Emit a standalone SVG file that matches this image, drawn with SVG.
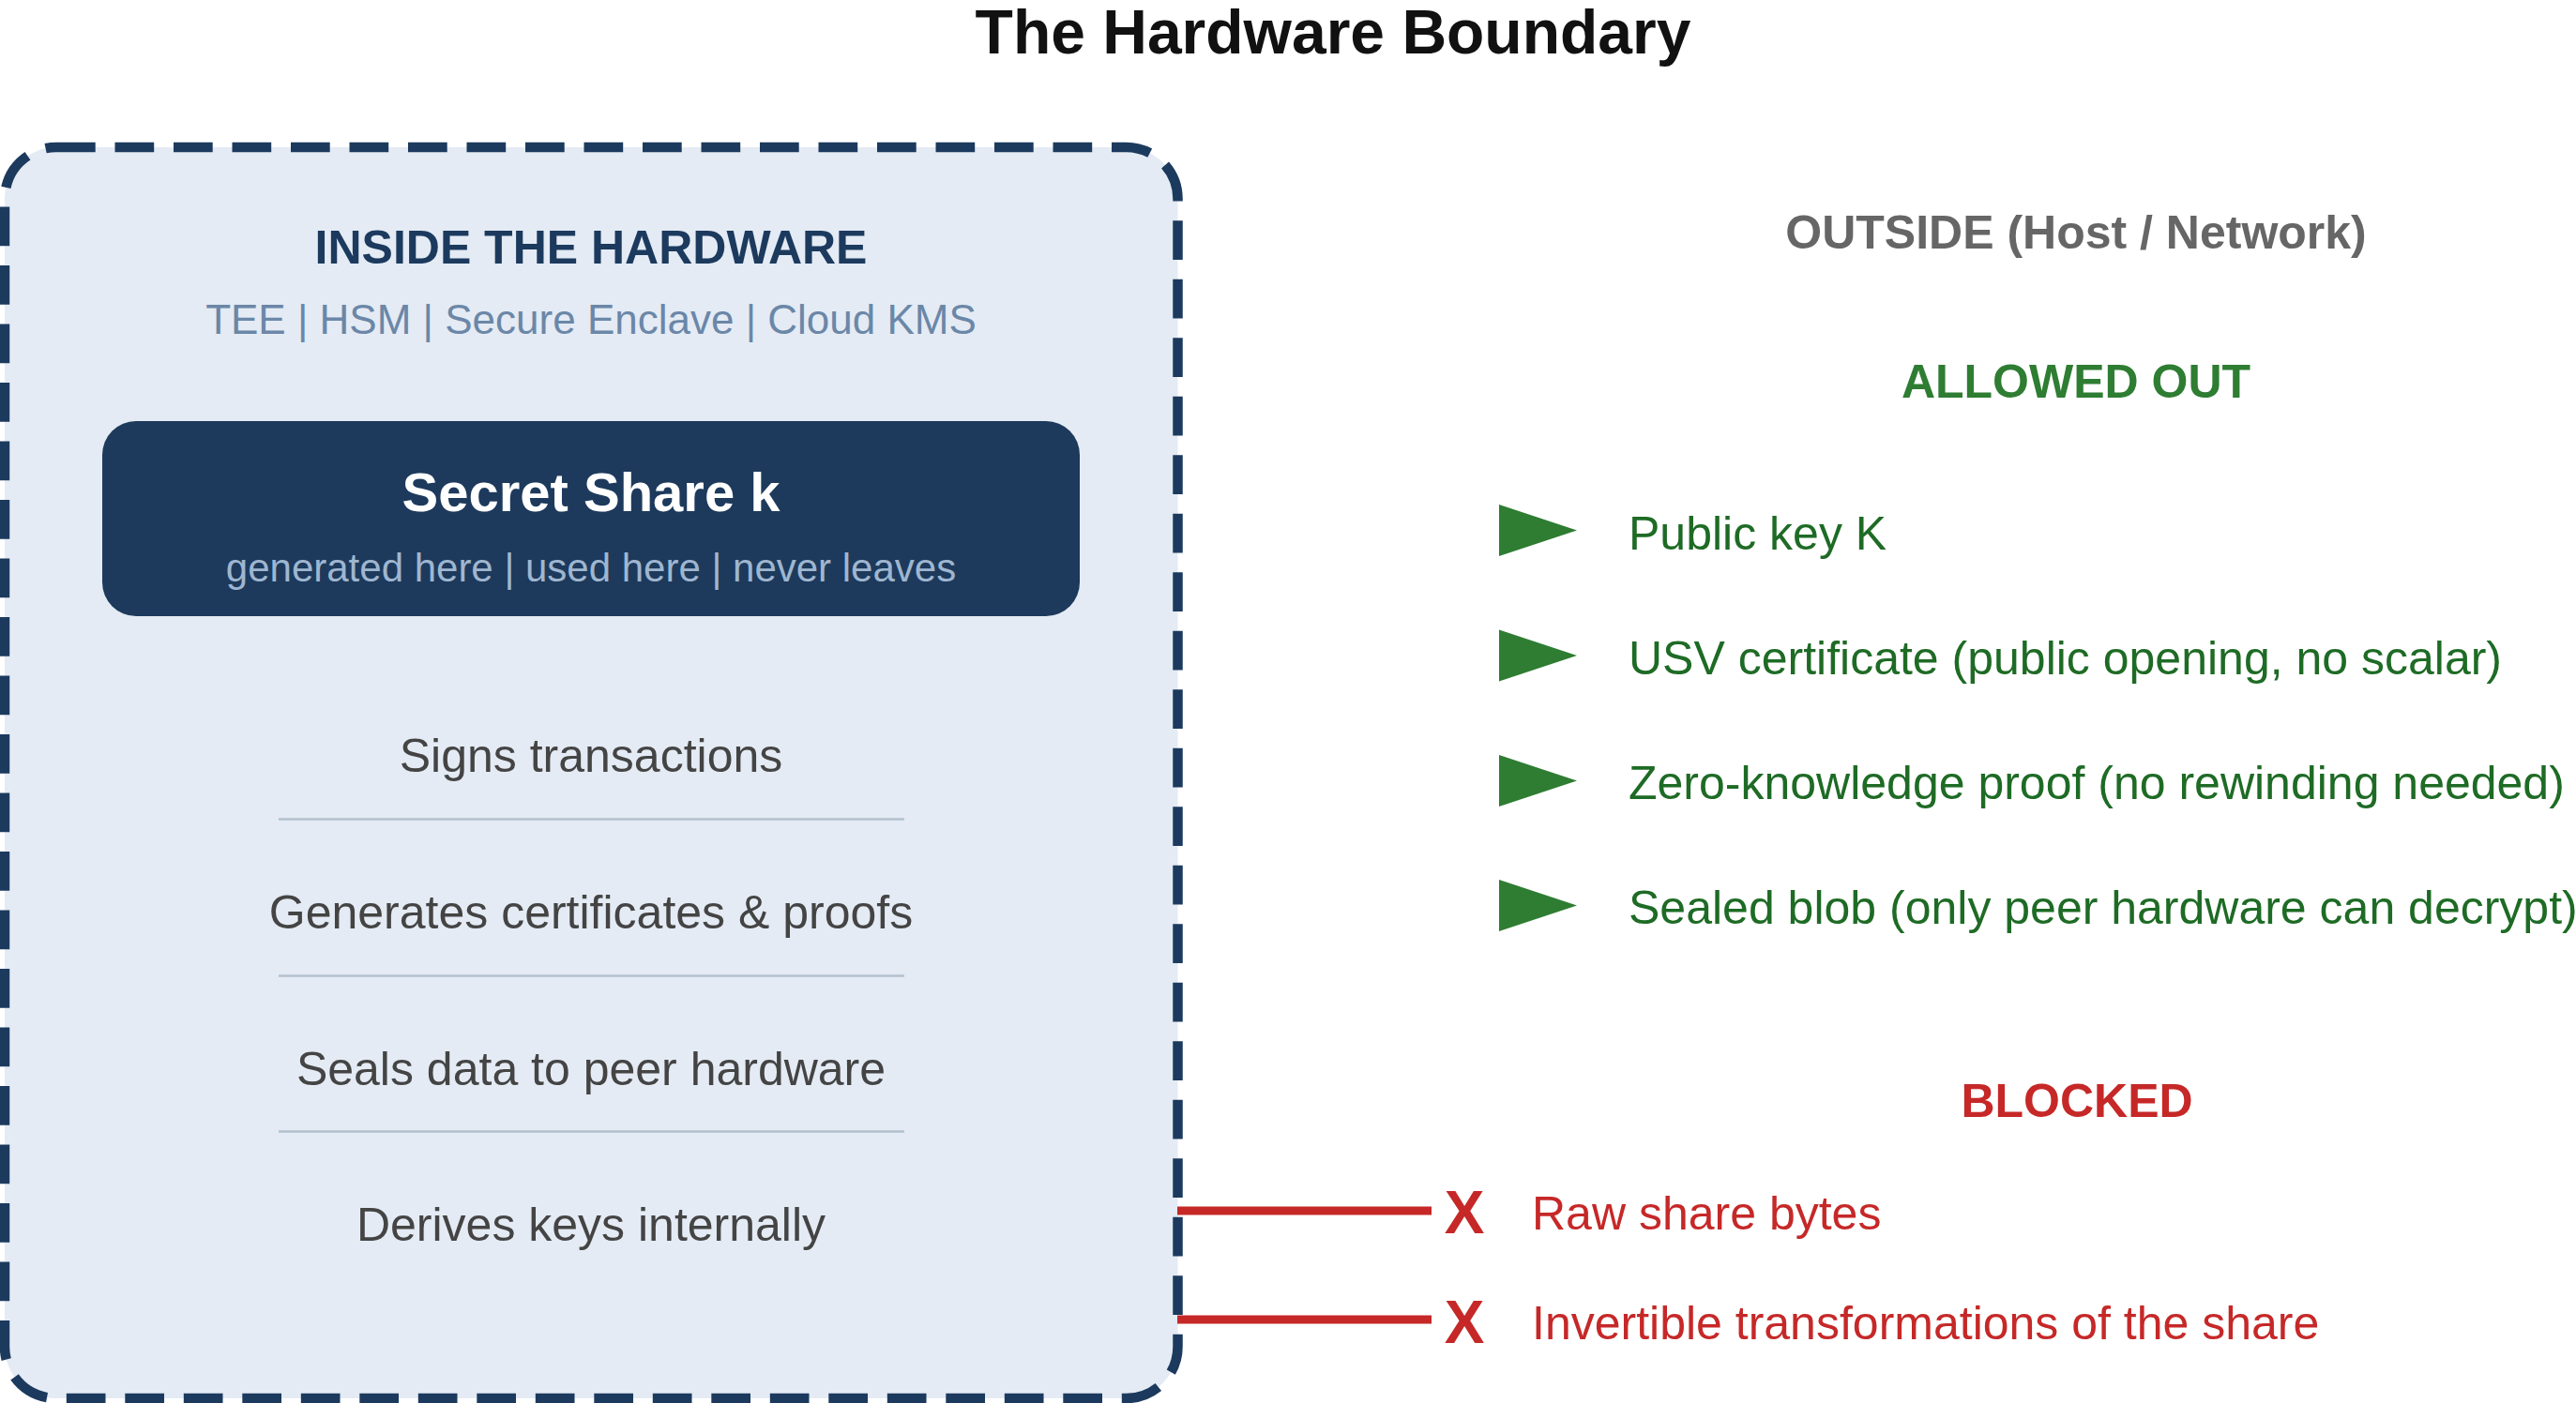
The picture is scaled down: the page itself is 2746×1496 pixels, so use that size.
<svg xmlns="http://www.w3.org/2000/svg" width="2746" height="1496" viewBox="0 0 2746 1496">
  <style>
    text { font-family: "Liberation Sans", Arial, Helvetica, sans-serif; }
    .title { font-size: 66px; font-weight: bold; fill: #111111; }
    .hdr { font-size: 50px; font-weight: bold; }
    .sub { font-size: 44px; fill: #6b87a8; }
    .item { font-size: 50px; fill: #444444; }
    .allowed { font-size: 50px; fill: #1e6b25; }
    .blocked { font-size: 50px; fill: #c62828; }
    .xmark { font-size: 64px; font-weight: bold; fill: #c62828; }
    .sep { stroke: #b4c1cf; stroke-width: 2.5; }
    .tri { fill: #2e7d32; }
    .block-line { stroke: #c62828; stroke-width: 9; fill: none; }
  </style>

  <rect x="0" y="0" width="2746" height="1496" fill="#ffffff"/>

  <text class="title" x="1421" y="57" text-anchor="middle">The Hardware Boundary</text>

  <g id="hardware-boundary">
    <rect x="5" y="157" width="1250.5" height="1334" rx="55" ry="55" fill="#e4ebf4" stroke="#1c3a5e" stroke-width="10.5" stroke-dasharray="41.7 20.8"/>
    <text class="hdr" x="630" y="281" text-anchor="middle" fill="#1c3a5e">INSIDE THE HARDWARE</text>
    <text class="sub" x="630" y="356" text-anchor="middle">TEE | HSM | Secure Enclave | Cloud KMS</text>
  </g>

  <g id="secret-share">
    <rect x="109" y="449" width="1042" height="208" rx="36" ry="36" fill="#1d3a5c"/>
    <text x="630" y="545" text-anchor="middle" style="font-size:58px;font-weight:bold;fill:#ffffff">Secret Share k</text>
    <text x="630" y="620" text-anchor="middle" style="font-size:42px;fill:#9fb6d0">generated here | used here | never leaves</text>
  </g>

  <g id="capabilities">
    <text class="item" x="630" y="823" text-anchor="middle">Signs transactions</text>
    <line class="sep" x1="297" y1="873.5" x2="964" y2="873.5"/>
    <text class="item" x="630" y="990" text-anchor="middle">Generates certificates &amp; proofs</text>
    <line class="sep" x1="297" y1="1040.5" x2="964" y2="1040.5"/>
    <text class="item" x="630" y="1157" text-anchor="middle">Seals data to peer hardware</text>
    <line class="sep" x1="297" y1="1206.5" x2="964" y2="1206.5"/>
    <text class="item" x="630" y="1323" text-anchor="middle">Derives keys internally</text>
  </g>

  <g id="outside">
    <text class="hdr" x="2213" y="265" text-anchor="middle" fill="#666666">OUTSIDE (Host / Network)</text>
  </g>

  <g id="allowed-out">
    <text class="hdr" x="2213" y="424" text-anchor="middle" fill="#2e7d32">ALLOWED OUT</text>
    <polygon class="tri" points="1598,538 1681,565.5 1598,593"/>
    <text class="allowed" x="1736" y="586">Public key K</text>
    <polygon class="tri" points="1598,671.5 1681,699 1598,726.5"/>
    <text class="allowed" x="1736" y="719">USV certificate (public opening, no scalar)</text>
    <polygon class="tri" points="1598,805 1681,832.5 1598,860"/>
    <text class="allowed" x="1736" y="852">Zero-knowledge proof (no rewinding needed)</text>
    <polygon class="tri" points="1598,938 1681,965.5 1598,993"/>
    <text class="allowed" x="1736" y="985">Sealed blob (only peer hardware can decrypt)</text>
  </g>

  <g id="blocked">
    <text class="hdr" x="2214" y="1191" text-anchor="middle" fill="#c62828">BLOCKED</text>
    <text class="xmark" x="1561" y="1315" text-anchor="middle">X</text>
    <text class="blocked" x="1633" y="1311">Raw share bytes</text>
    <text class="xmark" x="1561" y="1432" text-anchor="middle">X</text>
    <text class="blocked" x="1633" y="1428">Invertible transformations of the share</text>
  </g>

  <g id="connectors">
    <line class="block-line" x1="1255" y1="1291" x2="1526" y2="1291"/>
    <line class="block-line" x1="1255" y1="1407" x2="1526" y2="1407"/>
  </g>
</svg>
